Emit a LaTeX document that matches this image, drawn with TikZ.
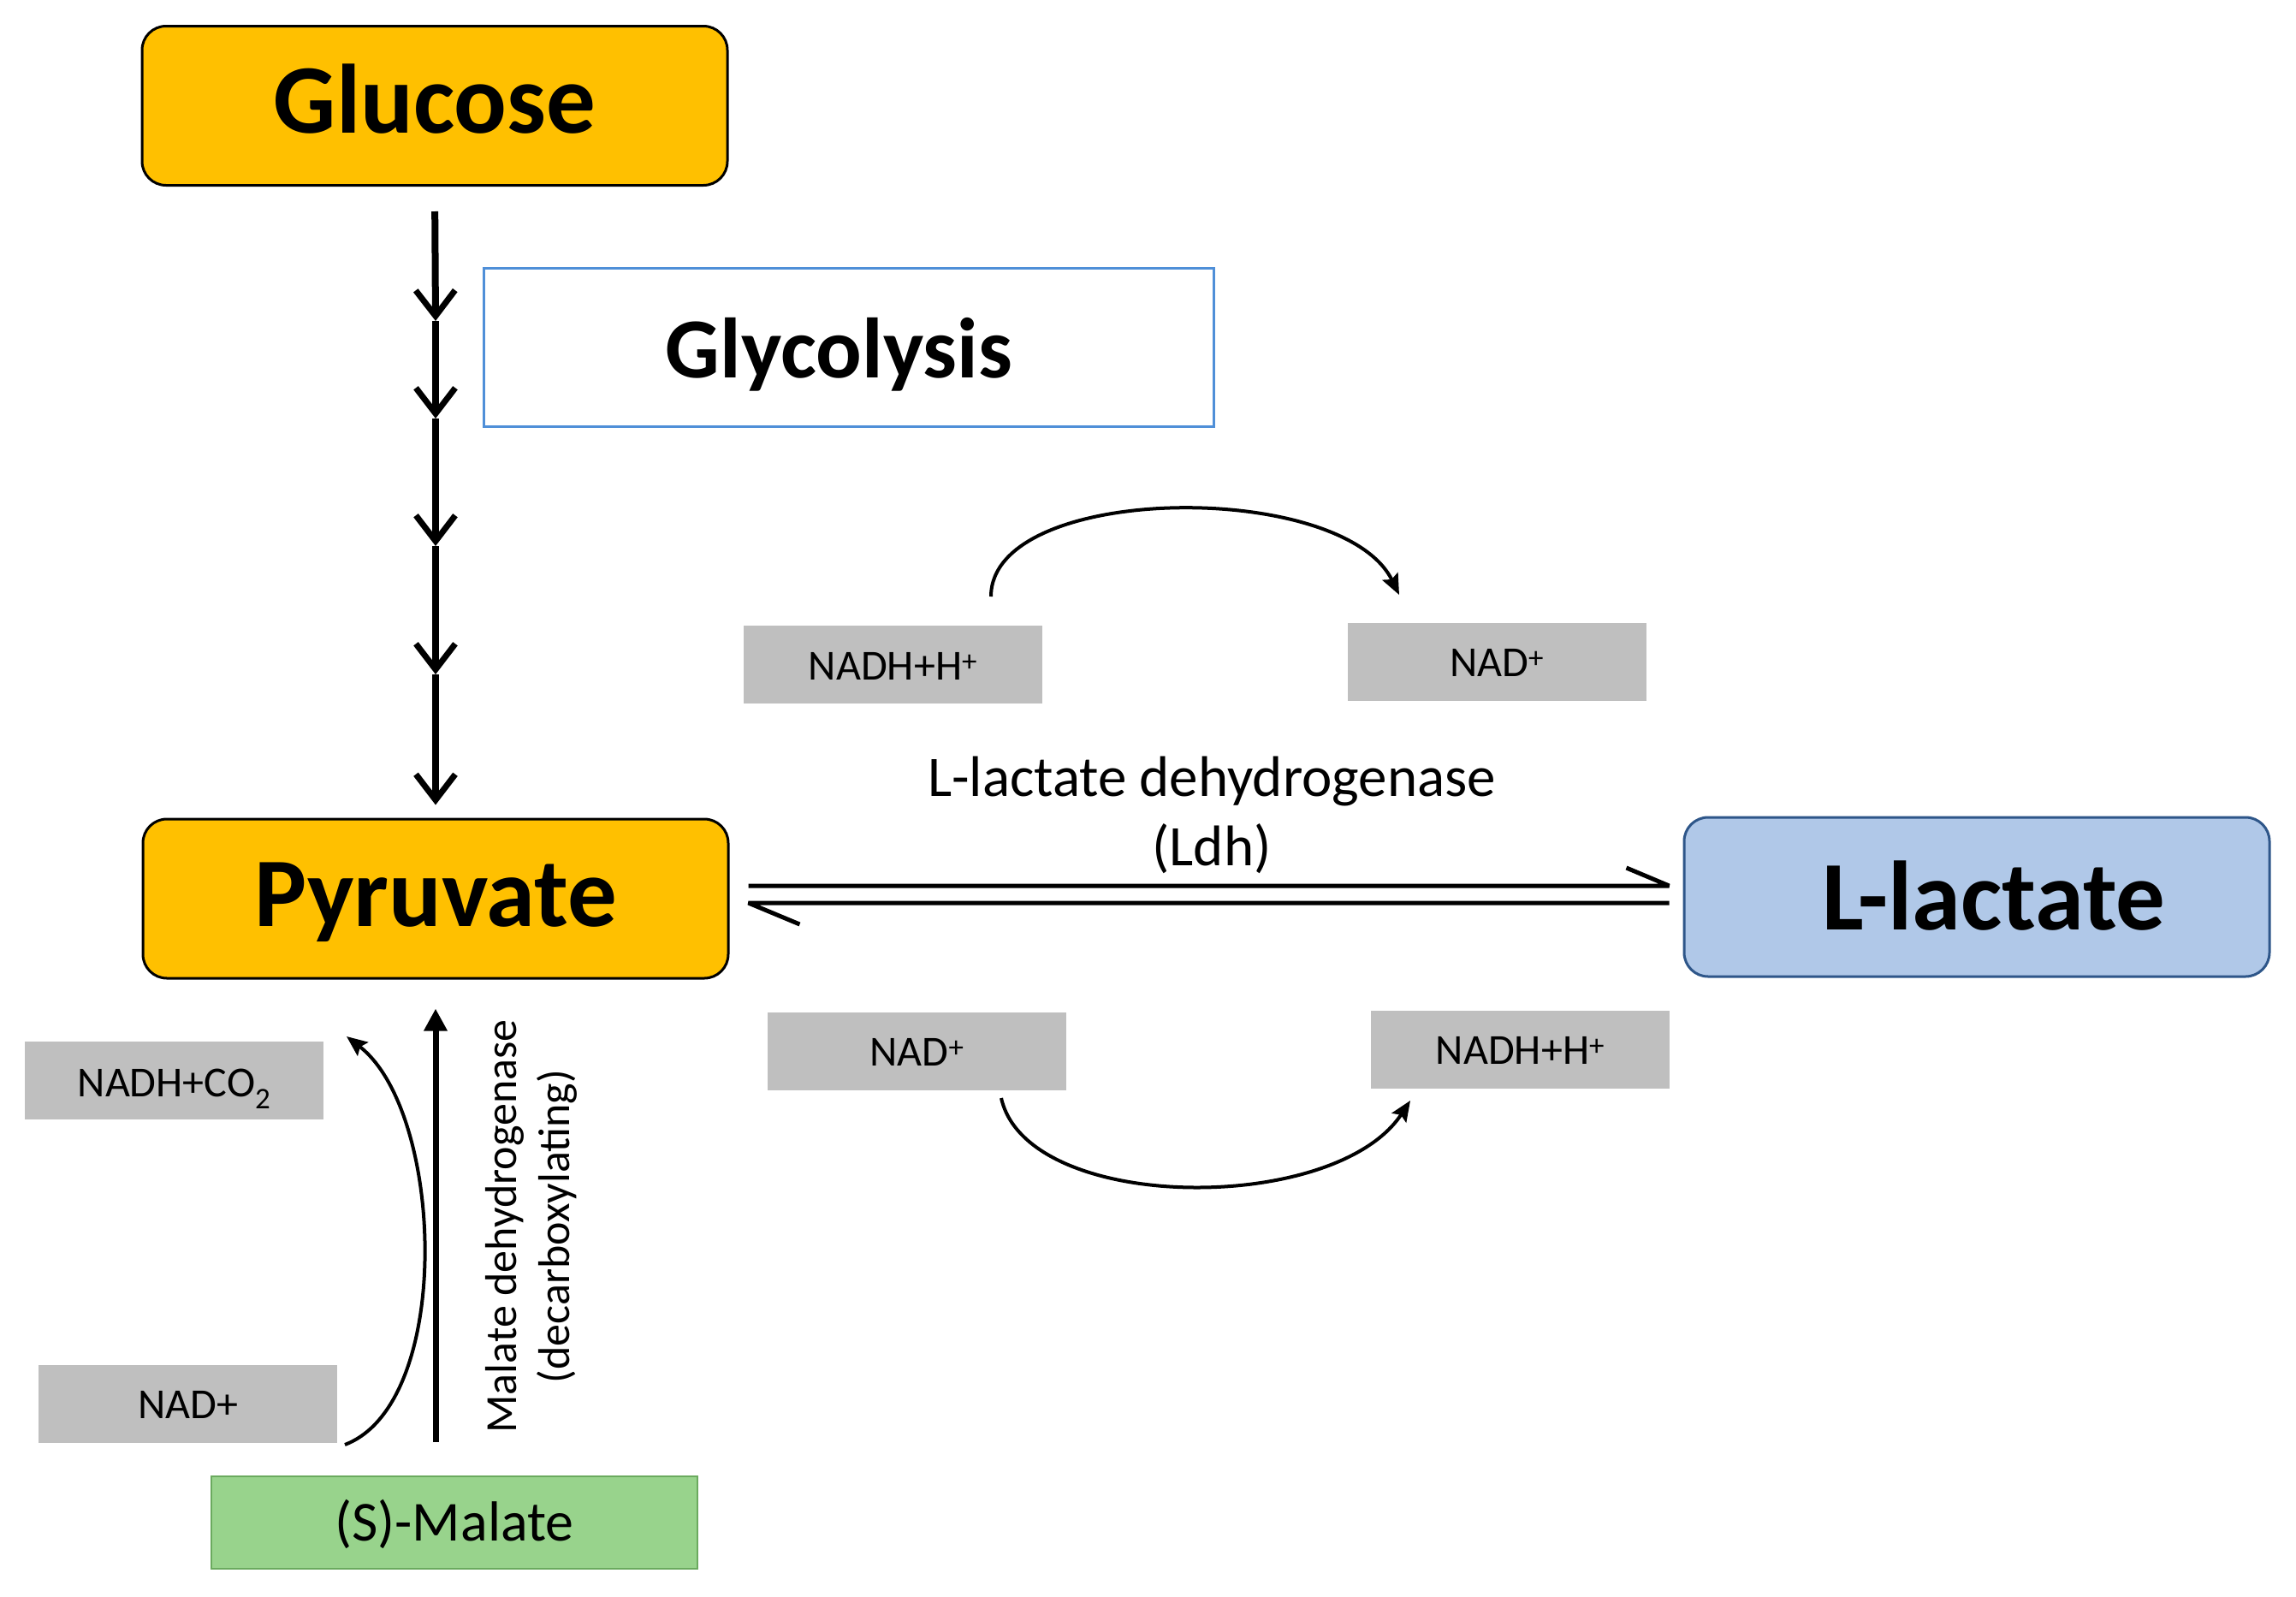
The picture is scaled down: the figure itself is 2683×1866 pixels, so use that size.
\documentclass[tikz,border=0pt]{standalone}
\usepackage{fontspec}
\setmainfont{Carlito}
\usetikzlibrary{arrows.meta,calc}
\definecolor{gold}{HTML}{FFC000}
\definecolor{lacfill}{HTML}{B0C8E8}
\definecolor{lacdraw}{HTML}{2E5689}
\definecolor{glyblue}{HTML}{4F8FD8}
\definecolor{boxgray}{HTML}{BFBFBF}
\definecolor{malfill}{HTML}{98D38C}
\definecolor{maldraw}{HTML}{6BAA5F}
\begin{document}
\begin{tikzpicture}[x=1pt,y=-1pt,
  metab/.style={draw=black, line width=3pt, rounded corners=28pt, fill=gold,
    minimum width=684pt, minimum height=186pt, inner sep=0pt,
    font=\fontsize{115}{138}\selectfont\bfseries, text depth=0pt},
  cofac/.style={fill=boxgray, minimum width=349pt, minimum height=91pt, inner sep=0pt,
    font=\fontsize{50}{60}\selectfont, text depth=0pt},
  glyline/.style={line width=8pt, -{Straight Barb[length=30pt,width=46pt,line width=7pt]}},
  curvarrow/.style={line width=4pt, -{Stealth[length=24pt,width=20pt,inset=4pt]}},
  harp/.style={line width=5pt, line join=bevel}
]
\fill[white] (0,0) rectangle (2683,1866);
\useasboundingbox (0,0) rectangle (2683,1866);

% main metabolites
\node[metab, text height=63pt] (glc) at (508,123.5) {Glucose};
\node[metab, text height=64pt] (pyr) at (509,1050) {Pyruvate};
\node[metab, fill=lacfill, draw=lacdraw, text height=76pt] (lac) at (2310,1048) {\hspace*{40pt}L-lactate};

% glycolysis label
\node[draw=glyblue, line width=3pt, minimum width=853pt, minimum height=185pt, inner sep=0pt,
  font=\fontsize{100}{120}\selectfont\bfseries, text height=71pt, text depth=0pt]
  (gly) at (991.5,405.5) {Glycolysis\hspace*{22pt}};

% cofactors
\node[cofac, text height=35pt] (nadh1) at (1043.5,776.5) {NADH+H\textsuperscript{+}};
\node[cofac, text height=34pt] (nad1) at (1749,773) {NAD\textsuperscript{+}};
\node[cofac, text height=33pt] (nad2) at (1071.5,1228.5) {NAD\textsuperscript{+}};
\node[cofac, text height=33pt] (nadh2) at (1776.5,1226.5) {NADH+H\textsuperscript{+}};
\node[cofac, text height=37pt] (nadhco) at (203.5,1262.5) {NADH+CO\textsubscript{2}};
\node[cofac, text height=33pt] (nad3) at (219.5,1640.5) {NAD+};

% malate
\node[fill=malfill, draw=maldraw, line width=2pt, minimum width=568pt, minimum height=108pt,
  inner sep=0pt, font=\fontsize{66}{80}\selectfont, text height=42pt, text depth=0pt]
  (mal) at (531,1779) {(S)-Malate};

% enzyme labels
\node[font=\fontsize{67}{81}\selectfont, align=center] (ldh) at (1416,952)
  {L-lactate dehydrogenase\\(Ldh)};
\node[font=\fontsize{52}{62}\selectfont, align=center, rotate=90] (mdh) at (621,1433)
  {Malate dehydrogenase\\(decarboxylating)};

% glycolysis pathway
\coordinate (g1) at (509,375);
\coordinate (g2) at (509,489);
\coordinate (g3) at (509,638);
\coordinate (g4) at (509,788);
\draw[glyline, shorten <=29pt] (glc.south) -- (g1);
\draw[glyline] (g1) -- (g2);
\draw[glyline] (g2) -- (g3);
\draw[glyline] (g3) -- (g4);
\draw[glyline, shorten >=15pt] (g4) -- (pyr.north);

% Ldh equilibrium harpoons
\coordinate (ha) at ($(pyr.east)+(22,-15)$);
\coordinate (hb) at ($(lac.west)+(-16,-13)$);
\coordinate (hc) at ($(pyr.east)+(22,5)$);
\coordinate (hd) at ($(lac.west)+(-16,7)$);
\draw[harp] (ha) -- (hb) -- ++(-50,-21);
\draw[harp] (hd) -- (hc) -- ++(60,25);

% cofactor arcs
\coordinate (u1) at (1158,697);
\coordinate (u2) at (1635,695);
\draw[curvarrow] (u1) .. controls +(0,-133) and +(-66,-135) .. (u2);
\coordinate (l1) at (1170,1283);
\coordinate (l2) at (1648,1286);
\draw[curvarrow] (l1) .. controls +(30,135) and +(-88,134) .. (l2);

% malate dehydrogenase
\coordinate (mx) at (509,0);
\draw[line width=7pt, -{Triangle[length=26pt,width=26pt]}, shorten <=39pt, shorten >=34pt]
  (mal.north -| mx) -- (pyr.south -| mx);
\coordinate (c1) at (403,1688);
\coordinate (c2) at (405,1211);
\draw[curvarrow] (c1) .. controls +(127,-48) and +(115,89) .. (c2);
\end{tikzpicture}
\end{document}
